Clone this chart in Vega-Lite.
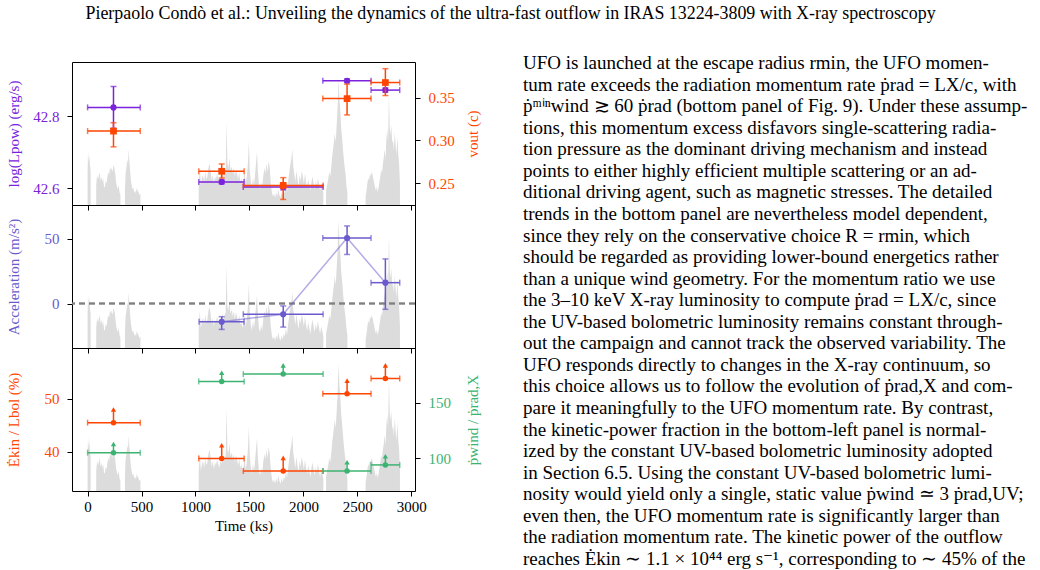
{
  "$schema": "https://vega.github.io/schema/vega-lite/v6.json",
  "background": "white",
  "padding": 5,
  "title": {"text": "Pierpaolo Condò   et al.: Unveiling the dynamics of the ultra-fast outflow in IRAS 13224-3809 with X-ray spectroscopy", "font": "Liberation Serif", "fontSize": 17.9, "fontWeight": "normal", "color": "black", "anchor": "start", "dx": 80, "offset": 31},
  "config": {
    "font": "Liberation Serif",
    "view": {"stroke": "black", "strokeWidth": 1}
  },
  "datasets": {
    "top": [
      {"t": 240, "tlo": 0, "thi": 488, "lp": 42.824, "lplo": 42.766, "lphi": 42.882, "v": 0.3108, "vlo": 0.2924, "vhi": 0.3206},
      {"t": 1243, "tlo": 1030, "thi": 1451, "lp": 42.617, "lplo": 42.612, "lphi": 42.622, "v": 0.2638, "vlo": 0.2559, "vhi": 0.2724},
      {"t": 1813, "tlo": 1443, "thi": 2183, "lp": 42.603, "lplo": 42.595, "lphi": 42.611, "v": 0.2473, "vlo": 0.2309, "vhi": 0.2564},
      {"t": 2405, "tlo": 2180, "thi": 2627, "lp": 42.898, "lplo": 42.893, "lphi": 42.903, "v": 0.3488, "vlo": 0.3297, "vhi": 0.3657},
      {"t": 2760, "tlo": 2627, "thi": 2893, "lp": 42.872, "lplo": 42.866, "lphi": 42.878, "v": 0.3676, "vlo": 0.3524, "vhi": 0.3838}
    ],
    "mid": [
      {"t": 1243, "tlo": 1033, "thi": 1450, "a": -14.0, "alo": -19.9, "ahi": -10.1},
      {"t": 1813, "tlo": 1443, "thi": 2183, "a": -8.2, "alo": -18.1, "ahi": -1.8},
      {"t": 2405, "tlo": 2180, "thi": 2627, "a": 50.5, "alo": 37.8, "ahi": 59.8},
      {"t": 2760, "tlo": 2627, "thi": 2893, "a": 16.1, "alo": -4.4, "ahi": 34.4}
    ],
    "bot": [
      {"t": 240, "tlo": 0, "thi": 488, "e": 45.5, "etop": 48.0, "p": 105.0, "ptop": 112.8},
      {"t": 1243, "tlo": 1030, "thi": 1451, "e": 38.7, "etop": 41.2, "p": 168.9, "ptop": 176.7},
      {"t": 1813, "tlo": 1443, "thi": 2183, "e": 36.3, "etop": 38.8, "p": 175.5, "ptop": 183.3},
      {"t": 2405, "tlo": 2180, "thi": 2627, "e": 51.0, "etop": 53.5, "p": 88.6, "ptop": 96.4},
      {"t": 2760, "tlo": 2627, "thi": 2893, "e": 53.9, "etop": 56.4, "p": 94.0, "ptop": 101.8}
    ],
    "lc": [
      {"seg": 1, "t": 0, "rate": 2.2}, {"seg": 1, "t": 4, "rate": 3.8}, {"seg": 1, "t": 10, "rate": 3.0}, {"seg": 1, "t": 16, "rate": 3.5}, {"seg": 1, "t": 22, "rate": 2.8}, {"seg": 1, "t": 28, "rate": 2.4},
      {"seg": 2, "t": 80, "rate": 1.4}, {"seg": 2, "t": 88, "rate": 2.1}, {"seg": 2, "t": 96, "rate": 1.8}, {"seg": 2, "t": 104, "rate": 2.0}, {"seg": 2, "t": 112, "rate": 2.3}, {"seg": 2, "t": 120, "rate": 1.7}, {"seg": 2, "t": 128, "rate": 2.0}, {"seg": 2, "t": 136, "rate": 1.6}, {"seg": 2, "t": 144, "rate": 1.9}, {"seg": 2, "t": 152, "rate": 1.3}, {"seg": 2, "t": 160, "rate": 1.2}, {"seg": 2, "t": 168, "rate": 1.7}, {"seg": 2, "t": 176, "rate": 1.5}, {"seg": 2, "t": 184, "rate": 2.0}, {"seg": 2, "t": 192, "rate": 2.3}, {"seg": 2, "t": 200, "rate": 2.1}, {"seg": 2, "t": 208, "rate": 2.7}, {"seg": 2, "t": 216, "rate": 2.4}, {"seg": 2, "t": 224, "rate": 2.6}, {"seg": 2, "t": 232, "rate": 2.3}, {"seg": 2, "t": 240, "rate": 2.8}, {"seg": 2, "t": 248, "rate": 2.6}, {"seg": 2, "t": 256, "rate": 2.2}, {"seg": 2, "t": 264, "rate": 1.6}, {"seg": 2, "t": 272, "rate": 1.3}, {"seg": 2, "t": 280, "rate": 1.1}, {"seg": 2, "t": 288, "rate": 1.4}, {"seg": 2, "t": 296, "rate": 0.9}, {"seg": 2, "t": 304, "rate": 0.7},
      {"seg": 3, "t": 346, "rate": 1.0}, {"seg": 3, "t": 352, "rate": 2.2}, {"seg": 3, "t": 360, "rate": 2.6}, {"seg": 3, "t": 368, "rate": 3.2}, {"seg": 3, "t": 375, "rate": 2.9}, {"seg": 3, "t": 381, "rate": 3.9}, {"seg": 3, "t": 387, "rate": 3.1}, {"seg": 3, "t": 393, "rate": 2.5}, {"seg": 3, "t": 400, "rate": 1.8}, {"seg": 3, "t": 408, "rate": 1.4}, {"seg": 3, "t": 416, "rate": 1.1}, {"seg": 3, "t": 424, "rate": 1.2}, {"seg": 3, "t": 432, "rate": 0.9}, {"seg": 3, "t": 440, "rate": 1.0}, {"seg": 3, "t": 448, "rate": 0.8}, {"seg": 3, "t": 456, "rate": 1.2}, {"seg": 3, "t": 464, "rate": 1.0}, {"seg": 3, "t": 472, "rate": 0.9}, {"seg": 3, "t": 480, "rate": 0.7}, {"seg": 3, "t": 490, "rate": 0.8},
      {"seg": 4, "t": 1030, "rate": 1.5}, {"seg": 4, "t": 1040, "rate": 2.6}, {"seg": 4, "t": 1050, "rate": 1.4}, {"seg": 4, "t": 1060, "rate": 1.9}, {"seg": 4, "t": 1070, "rate": 2.1}, {"seg": 4, "t": 1080, "rate": 1.6}, {"seg": 4, "t": 1090, "rate": 2.3}, {"seg": 4, "t": 1100, "rate": 1.8}, {"seg": 4, "t": 1110, "rate": 2.0}, {"seg": 4, "t": 1120, "rate": 2.6}, {"seg": 4, "t": 1130, "rate": 2.9}, {"seg": 4, "t": 1140, "rate": 2.4}, {"seg": 4, "t": 1150, "rate": 1.7}, {"seg": 4, "t": 1160, "rate": 2.1}, {"seg": 4, "t": 1170, "rate": 1.5}, {"seg": 4, "t": 1180, "rate": 2.0}, {"seg": 4, "t": 1190, "rate": 1.8}, {"seg": 4, "t": 1200, "rate": 2.2}, {"seg": 4, "t": 1210, "rate": 1.9}, {"seg": 4, "t": 1220, "rate": 1.6}, {"seg": 4, "t": 1230, "rate": 2.1}, {"seg": 4, "t": 1240, "rate": 1.9}, {"seg": 4, "t": 1250, "rate": 2.4}, {"seg": 4, "t": 1260, "rate": 2.0}, {"seg": 4, "t": 1270, "rate": 2.3}, {"seg": 4, "t": 1280, "rate": 2.5}, {"seg": 4, "t": 1288, "rate": 5.8}, {"seg": 4, "t": 1296, "rate": 2.9}, {"seg": 4, "t": 1305, "rate": 2.6}, {"seg": 4, "t": 1315, "rate": 3.3}, {"seg": 4, "t": 1325, "rate": 2.4}, {"seg": 4, "t": 1335, "rate": 2.7}, {"seg": 4, "t": 1345, "rate": 2.2}, {"seg": 4, "t": 1355, "rate": 2.6}, {"seg": 4, "t": 1365, "rate": 2.0}, {"seg": 4, "t": 1375, "rate": 2.5}, {"seg": 4, "t": 1385, "rate": 2.2}, {"seg": 4, "t": 1395, "rate": 1.8}, {"seg": 4, "t": 1405, "rate": 2.3}, {"seg": 4, "t": 1415, "rate": 1.6}, {"seg": 4, "t": 1425, "rate": 1.9}, {"seg": 4, "t": 1435, "rate": 1.4}, {"seg": 4, "t": 1445, "rate": 1.7}, {"seg": 4, "t": 1455, "rate": 2.4}, {"seg": 4, "t": 1465, "rate": 1.5}, {"seg": 4, "t": 1475, "rate": 2.0}, {"seg": 4, "t": 1485, "rate": 2.8}, {"seg": 4, "t": 1495, "rate": 4.5}, {"seg": 4, "t": 1503, "rate": 2.5}, {"seg": 4, "t": 1512, "rate": 1.7}, {"seg": 4, "t": 1522, "rate": 1.2}, {"seg": 4, "t": 1532, "rate": 1.9}, {"seg": 4, "t": 1542, "rate": 1.4}, {"seg": 4, "t": 1552, "rate": 2.1}, {"seg": 4, "t": 1562, "rate": 3.0}, {"seg": 4, "t": 1570, "rate": 3.7}, {"seg": 4, "t": 1578, "rate": 2.4}, {"seg": 4, "t": 1588, "rate": 1.4}, {"seg": 4, "t": 1598, "rate": 1.1}, {"seg": 4, "t": 1608, "rate": 1.6}, {"seg": 4, "t": 1618, "rate": 1.2}, {"seg": 4, "t": 1628, "rate": 2.0}, {"seg": 4, "t": 1638, "rate": 2.6}, {"seg": 4, "t": 1648, "rate": 2.2}, {"seg": 4, "t": 1658, "rate": 2.9}, {"seg": 4, "t": 1668, "rate": 2.3}, {"seg": 4, "t": 1678, "rate": 3.1}, {"seg": 4, "t": 1688, "rate": 2.6}, {"seg": 4, "t": 1698, "rate": 1.5}, {"seg": 4, "t": 1708, "rate": 0.9}, {"seg": 4, "t": 1718, "rate": 0.6}, {"seg": 4, "t": 1728, "rate": 0.8}, {"seg": 4, "t": 1738, "rate": 0.5}, {"seg": 4, "t": 1748, "rate": 0.9}, {"seg": 4, "t": 1758, "rate": 0.6}, {"seg": 4, "t": 1768, "rate": 1.1}, {"seg": 4, "t": 1778, "rate": 0.7}, {"seg": 4, "t": 1788, "rate": 0.5}, {"seg": 4, "t": 1798, "rate": 0.9}, {"seg": 4, "t": 1808, "rate": 0.6}, {"seg": 4, "t": 1818, "rate": 1.0}, {"seg": 4, "t": 1828, "rate": 0.8}, {"seg": 4, "t": 1838, "rate": 1.4}, {"seg": 4, "t": 1848, "rate": 0.9}, {"seg": 4, "t": 1858, "rate": 1.6}, {"seg": 4, "t": 1868, "rate": 2.2}, {"seg": 4, "t": 1878, "rate": 2.8}, {"seg": 4, "t": 1888, "rate": 3.2}, {"seg": 4, "t": 1898, "rate": 3.9}, {"seg": 4, "t": 1906, "rate": 2.7}, {"seg": 4, "t": 1915, "rate": 2.2}, {"seg": 4, "t": 1925, "rate": 1.6}, {"seg": 4, "t": 1935, "rate": 2.4}, {"seg": 4, "t": 1945, "rate": 1.8}, {"seg": 4, "t": 1955, "rate": 1.3}, {"seg": 4, "t": 1965, "rate": 2.1}, {"seg": 4, "t": 1975, "rate": 1.7}, {"seg": 4, "t": 1985, "rate": 2.4}, {"seg": 4, "t": 1995, "rate": 2.0}, {"seg": 4, "t": 2005, "rate": 1.5}, {"seg": 4, "t": 2015, "rate": 2.2}, {"seg": 4, "t": 2025, "rate": 1.6}, {"seg": 4, "t": 2035, "rate": 1.2}, {"seg": 4, "t": 2045, "rate": 1.8}, {"seg": 4, "t": 2055, "rate": 1.4}, {"seg": 4, "t": 2065, "rate": 1.0}, {"seg": 4, "t": 2075, "rate": 1.6}, {"seg": 4, "t": 2085, "rate": 2.0}, {"seg": 4, "t": 2095, "rate": 1.5}, {"seg": 4, "t": 2105, "rate": 1.1}, {"seg": 4, "t": 2115, "rate": 1.7}, {"seg": 4, "t": 2125, "rate": 1.3}, {"seg": 4, "t": 2135, "rate": 1.9}, {"seg": 4, "t": 2145, "rate": 1.4}, {"seg": 4, "t": 2155, "rate": 1.0}, {"seg": 4, "t": 2165, "rate": 1.5}, {"seg": 4, "t": 2175, "rate": 1.2}, {"seg": 4, "t": 2185, "rate": 0.8},
      {"seg": 5, "t": 2210, "rate": 1.0}, {"seg": 5, "t": 2220, "rate": 1.4}, {"seg": 5, "t": 2230, "rate": 1.8}, {"seg": 5, "t": 2240, "rate": 2.3}, {"seg": 5, "t": 2250, "rate": 2.0}, {"seg": 5, "t": 2260, "rate": 2.8}, {"seg": 5, "t": 2270, "rate": 3.6}, {"seg": 5, "t": 2280, "rate": 4.2}, {"seg": 5, "t": 2290, "rate": 5.0}, {"seg": 5, "t": 2300, "rate": 4.4}, {"seg": 5, "t": 2310, "rate": 5.8}, {"seg": 5, "t": 2318, "rate": 6.9}, {"seg": 5, "t": 2326, "rate": 8.9}, {"seg": 5, "t": 2334, "rate": 7.4}, {"seg": 5, "t": 2342, "rate": 6.6}, {"seg": 5, "t": 2350, "rate": 5.4}, {"seg": 5, "t": 2360, "rate": 4.6}, {"seg": 5, "t": 2370, "rate": 3.6}, {"seg": 5, "t": 2380, "rate": 2.8}, {"seg": 5, "t": 2390, "rate": 2.2}, {"seg": 5, "t": 2400, "rate": 1.3}, {"seg": 5, "t": 2408, "rate": 0.9},
      {"seg": 6, "t": 2577, "rate": 0.6}, {"seg": 6, "t": 2585, "rate": 1.0}, {"seg": 6, "t": 2593, "rate": 1.5}, {"seg": 6, "t": 2601, "rate": 1.9}, {"seg": 6, "t": 2609, "rate": 1.7}, {"seg": 6, "t": 2617, "rate": 2.2}, {"seg": 6, "t": 2625, "rate": 2.0}, {"seg": 6, "t": 2633, "rate": 2.3}, {"seg": 6, "t": 2641, "rate": 2.1}, {"seg": 6, "t": 2649, "rate": 1.8}, {"seg": 6, "t": 2657, "rate": 1.5}, {"seg": 6, "t": 2665, "rate": 1.2}, {"seg": 6, "t": 2673, "rate": 1.0}, {"seg": 6, "t": 2681, "rate": 1.3}, {"seg": 6, "t": 2689, "rate": 0.9}, {"seg": 6, "t": 2697, "rate": 1.2}, {"seg": 6, "t": 2705, "rate": 1.6}, {"seg": 6, "t": 2713, "rate": 2.0}, {"seg": 6, "t": 2721, "rate": 2.5}, {"seg": 6, "t": 2729, "rate": 2.2}, {"seg": 6, "t": 2737, "rate": 2.9}, {"seg": 6, "t": 2745, "rate": 3.3}, {"seg": 6, "t": 2753, "rate": 3.9}, {"seg": 6, "t": 2761, "rate": 3.2}, {"seg": 6, "t": 2769, "rate": 4.6}, {"seg": 6, "t": 2777, "rate": 5.3}, {"seg": 6, "t": 2785, "rate": 4.4}, {"seg": 6, "t": 2793, "rate": 7.8}, {"seg": 6, "t": 2800, "rate": 5.5}, {"seg": 6, "t": 2807, "rate": 4.9}, {"seg": 6, "t": 2815, "rate": 5.6}, {"seg": 6, "t": 2823, "rate": 4.3}, {"seg": 6, "t": 2831, "rate": 4.6}, {"seg": 6, "t": 2839, "rate": 3.8}, {"seg": 6, "t": 2847, "rate": 5.1}, {"seg": 6, "t": 2855, "rate": 4.2}, {"seg": 6, "t": 2863, "rate": 3.5}, {"seg": 6, "t": 2871, "rate": 4.8}, {"seg": 6, "t": 2879, "rate": 3.6}, {"seg": 6, "t": 2887, "rate": 2.9}, {"seg": 6, "t": 2895, "rate": 1.5}
    ],
    "txt": [
      {"col": 1, "line": 1, "s": "UFO is launched at the escape radius rmin, the UFO momen-"},
      {"col": 1, "line": 2, "s": "tum rate exceeds the radiation momentum rate ṗrad = LX/c, with"},
      {"col": 1, "line": 3, "s": "ṗᵐⁱⁿwind ≳ 60 ṗrad (bottom panel of Fig. 9). Under these assump-"},
      {"col": 1, "line": 4, "s": "tions, this momentum excess disfavors single-scattering radia-"},
      {"col": 1, "line": 5, "s": "tion pressure as the dominant driving mechanism and instead"},
      {"col": 1, "line": 6, "s": "points to either highly efficient multiple scattering or an ad-"},
      {"col": 1, "line": 7, "s": "ditional driving agent, such as magnetic stresses. The detailed"},
      {"col": 1, "line": 8, "s": "trends in the bottom panel are nevertheless model dependent,"},
      {"col": 1, "line": 9, "s": "since they rely on the conservative choice R = rmin, which"},
      {"col": 1, "line": 10, "s": "should be regarded as providing lower-bound energetics rather"},
      {"col": 1, "line": 11, "s": "than a unique wind geometry. For the momentum ratio we use"},
      {"col": 1, "line": 12, "s": "the 3–10 keV X-ray luminosity to compute ṗrad = LX/c, since"},
      {"col": 1, "line": 13, "s": "the UV-based bolometric luminosity remains constant through-"},
      {"col": 1, "line": 14, "s": "out the campaign and cannot track the observed variability. The"},
      {"col": 1, "line": 15, "s": "UFO responds directly to changes in the X-ray continuum, so"},
      {"col": 1, "line": 16, "s": "this choice allows us to follow the evolution of ṗrad,X and com-"},
      {"col": 1, "line": 17, "s": "pare it meaningfully to the UFO momentum rate. By contrast,"},
      {"col": 1, "line": 18, "s": "the kinetic-power fraction in the bottom-left panel is normal-"},
      {"col": 1, "line": 19, "s": "ized by the constant UV-based bolometric luminosity adopted"},
      {"col": 1, "line": 20, "s": "in Section 6.5. Using the constant UV-based bolometric lumi-"},
      {"col": 1, "line": 21, "s": "nosity would yield only a single, static value ṗwind ≃ 3 ṗrad,UV;"},
      {"col": 1, "line": 22, "s": "even then, the UFO momentum rate is significantly larger than"},
      {"col": 1, "line": 23, "s": "the radiation momentum rate. The kinetic power of the outflow"},
      {"col": 1, "line": 24, "s": "reaches Ėkin ∼ 1.1 × 10⁴⁴ erg s⁻¹, corresponding to ∼ 45% of the"}
    ]
  },
  "hconcat": [
    {
      "vconcat": [
        {
          "width": 343, "height": 143,
          "layer": [
            {"data": {"name": "lc"}, "mark": {"type": "area", "color": "#dcdcdc"},
             "encoding": {
               "x": {"field": "t", "type": "quantitative", "scale": {"domain": [-144.5, 3034.5], "nice": false, "zero": false}, "axis": {"values": [0, 500, 1000, 1500, 2000, 2500, 3000], "labels": false, "title": null, "orient": "bottom", "grid": false, "domain": false, "tickColor": "black", "tickSize": 5}},
               "y": {"field": "rate", "type": "quantitative", "stack": null, "scale": {"domain": [0, 10], "nice": false}, "axis": null},
               "detail": {"field": "seg"}}},
            {"data": {"name": "top"}, "mark": {"type": "errorbar", "ticks": {"size": 6, "thickness": 1.5}, "thickness": 1.5},
             "encoding": {
               "x": {"field": "tlo", "type": "quantitative", "axis": {"values": [0, 500, 1000, 1500, 2000, 2500, 3000], "labels": false, "title": null, "orient": "bottom", "grid": false, "domain": false, "tickColor": "black", "tickSize": 5}},
               "x2": {"field": "thi"},
               "y": {"field": "lp", "type": "quantitative", "scale": {"domain": [42.553, 42.95], "nice": false, "zero": false}, "axis": null},
               "color": {"value": "#7a22dc"}}},
            {"data": {"name": "top"}, "mark": {"type": "errorbar", "ticks": {"size": 6, "thickness": 1.5}, "thickness": 1.5},
             "encoding": {
               "x": {"field": "t", "type": "quantitative", "axis": {"values": [0, 500, 1000, 1500, 2000, 2500, 3000], "labels": false, "title": null, "orient": "bottom", "grid": false, "domain": false, "tickColor": "black", "tickSize": 5}},
               "y": {"field": "lplo", "type": "quantitative", "scale": {"domain": [42.553, 42.95], "nice": false, "zero": false}, "axis": null},
               "y2": {"field": "lphi"},
               "color": {"value": "#7a22dc"}}},
            {"data": {"name": "top"}, "mark": {"type": "point", "filled": true, "shape": "circle", "size": 38, "opacity": 1, "color": "#7a22dc"},
             "encoding": {
               "x": {"field": "t", "type": "quantitative", "axis": {"values": [0, 500, 1000, 1500, 2000, 2500, 3000], "labels": false, "title": null, "orient": "bottom", "grid": false, "domain": false, "tickColor": "black", "tickSize": 5}},
               "y": {"field": "lp", "type": "quantitative", "scale": {"domain": [42.553, 42.95], "nice": false, "zero": false},
                     "axis": {"orient": "left", "values": [42.6, 42.8], "format": ".1f", "title": "log(Lpow) (erg/s)", "grid": false, "domain": false, "tickColor": "black", "tickSize": 5, "labelFontSize": 15, "titleFontSize": 15, "labelFont": "Liberation Serif", "titleFont": "Liberation Serif", "titleFontWeight": "normal", "labelPadding": 8, "titleColor": "#7a22dc", "labelColor": "#7a22dc", "titleX": -51, "titleY": 71.5, "titleAngle": 270, "titleAlign": "center", "titleBaseline": "bottom"}}}},
            {"data": {"name": "top"}, "mark": {"type": "errorbar", "ticks": {"size": 6, "thickness": 1.5}, "thickness": 1.5},
             "encoding": {
               "x": {"field": "tlo", "type": "quantitative", "axis": {"values": [0, 500, 1000, 1500, 2000, 2500, 3000], "labels": false, "title": null, "orient": "bottom", "grid": false, "domain": false, "tickColor": "black", "tickSize": 5}},
               "x2": {"field": "thi"},
               "y": {"field": "v", "type": "quantitative", "scale": {"domain": [0.2244, 0.3916], "nice": false, "zero": false}, "axis": null},
               "color": {"value": "#ff4500"}}},
            {"data": {"name": "top"}, "mark": {"type": "errorbar", "ticks": {"size": 6, "thickness": 1.5}, "thickness": 1.5},
             "encoding": {
               "x": {"field": "t", "type": "quantitative", "axis": {"values": [0, 500, 1000, 1500, 2000, 2500, 3000], "labels": false, "title": null, "orient": "bottom", "grid": false, "domain": false, "tickColor": "black", "tickSize": 5}},
               "y": {"field": "vlo", "type": "quantitative", "scale": {"domain": [0.2244, 0.3916], "nice": false, "zero": false}, "axis": null},
               "y2": {"field": "vhi"},
               "color": {"value": "#ff4500"}}},
            {"data": {"name": "top"}, "mark": {"type": "point", "filled": true, "shape": "square", "size": 45, "opacity": 1, "color": "#ff4500"},
             "encoding": {
               "x": {"field": "t", "type": "quantitative", "axis": {"values": [0, 500, 1000, 1500, 2000, 2500, 3000], "labels": false, "title": null, "orient": "bottom", "grid": false, "domain": false, "tickColor": "black", "tickSize": 5}},
               "y": {"field": "v", "type": "quantitative", "scale": {"domain": [0.2244, 0.3916], "nice": false, "zero": false},
                     "axis": {"orient": "right", "values": [0.25, 0.3, 0.35], "format": ".2f", "title": "vout (c)", "grid": false, "domain": false, "tickColor": "black", "tickSize": 5, "labelFontSize": 15, "titleFontSize": 15, "labelFont": "Liberation Serif", "titleFont": "Liberation Serif", "titleFontWeight": "normal", "labelPadding": 8, "titleColor": "#ff4500", "labelColor": "#ff4500", "titleX": 65, "titleY": 71.5, "titleAngle": 270, "titleAlign": "center", "titleBaseline": "bottom"}}}}
          ],
          "resolve": {"scale": {"y": "independent"}}
        },
        {
          "width": 343, "height": 143,
          "layer": [
            {"data": {"name": "lc"}, "mark": {"type": "area", "color": "#dcdcdc"},
             "encoding": {
               "x": {"field": "t", "type": "quantitative", "scale": {"domain": [-144.5, 3034.5], "nice": false, "zero": false}, "axis": {"values": [0, 500, 1000, 1500, 2000, 2500, 3000], "labels": false, "title": null, "orient": "bottom", "grid": false, "domain": false, "tickColor": "black", "tickSize": 5}},
               "y": {"field": "rate", "type": "quantitative", "stack": null, "scale": {"domain": [0, 10], "nice": false}, "axis": null},
               "detail": {"field": "seg"}}},
            {"data": {"name": "mid"}, "mark": {"type": "rule", "strokeDash": [6, 4], "color": "#808080", "strokeWidth": 1.5},
             "encoding": {"y": {"datum": 0, "type": "quantitative", "scale": {"domain": [-34.2, 75.9], "nice": false, "zero": false}, "axis": null}}},
            {"data": {"name": "mid"}, "mark": {"type": "line", "color": "#6a5acd", "opacity": 0.5, "strokeWidth": 1.5},
             "encoding": {
               "x": {"field": "t", "type": "quantitative", "axis": {"values": [0, 500, 1000, 1500, 2000, 2500, 3000], "labels": false, "title": null, "orient": "bottom", "grid": false, "domain": false, "tickColor": "black", "tickSize": 5}},
               "y": {"field": "a", "type": "quantitative", "scale": {"domain": [-34.2, 75.9], "nice": false, "zero": false}, "axis": null}}},
            {"data": {"name": "mid"}, "mark": {"type": "errorbar", "ticks": {"size": 6, "thickness": 1.5}, "thickness": 1.5},
             "encoding": {
               "x": {"field": "tlo", "type": "quantitative", "axis": {"values": [0, 500, 1000, 1500, 2000, 2500, 3000], "labels": false, "title": null, "orient": "bottom", "grid": false, "domain": false, "tickColor": "black", "tickSize": 5}},
               "x2": {"field": "thi"},
               "y": {"field": "a", "type": "quantitative", "scale": {"domain": [-34.2, 75.9], "nice": false, "zero": false}, "axis": null},
               "color": {"value": "#6a5acd"}}},
            {"data": {"name": "mid"}, "mark": {"type": "errorbar", "ticks": {"size": 6, "thickness": 1.5}, "thickness": 1.5},
             "encoding": {
               "x": {"field": "t", "type": "quantitative", "axis": {"values": [0, 500, 1000, 1500, 2000, 2500, 3000], "labels": false, "title": null, "orient": "bottom", "grid": false, "domain": false, "tickColor": "black", "tickSize": 5}},
               "y": {"field": "alo", "type": "quantitative", "scale": {"domain": [-34.2, 75.9], "nice": false, "zero": false}, "axis": null},
               "y2": {"field": "ahi"},
               "color": {"value": "#6a5acd"}}},
            {"data": {"name": "mid"}, "mark": {"type": "point", "filled": true, "shape": "circle", "size": 38, "opacity": 1, "color": "#6a5acd"},
             "encoding": {
               "x": {"field": "t", "type": "quantitative", "axis": {"values": [0, 500, 1000, 1500, 2000, 2500, 3000], "labels": false, "title": null, "orient": "bottom", "grid": false, "domain": false, "tickColor": "black", "tickSize": 5}},
               "y": {"field": "a", "type": "quantitative", "scale": {"domain": [-34.2, 75.9], "nice": false, "zero": false},
                     "axis": {"orient": "left", "values": [0, 50], "title": "Acceleration (m/s²)", "grid": false, "domain": false, "tickColor": "black", "tickSize": 5, "labelFontSize": 15, "titleFontSize": 15, "labelFont": "Liberation Serif", "titleFont": "Liberation Serif", "titleFontWeight": "normal", "labelPadding": 8, "titleColor": "#6a5acd", "labelColor": "#6a5acd", "titleX": -51, "titleY": 71.5, "titleAngle": 270, "titleAlign": "center", "titleBaseline": "bottom"}}}}
          ],
          "resolve": {"scale": {"y": "independent"}}
        },
        {
          "width": 343, "height": 143,
          "layer": [
            {"data": {"name": "lc"}, "mark": {"type": "area", "color": "#dcdcdc"},
             "encoding": {
               "x": {"field": "t", "type": "quantitative", "scale": {"domain": [-144.5, 3034.5], "nice": false, "zero": false}, "axis": {"values": [0, 500, 1000, 1500, 2000, 2500, 3000], "format": "d", "title": "Time (ks)", "orient": "bottom", "grid": false, "domain": false, "tickColor": "black", "tickSize": 5, "labelFontSize": 15, "titleFontSize": 15, "labelFont": "Liberation Serif", "titleFont": "Liberation Serif", "titleFontWeight": "normal", "labelPadding": 3, "labelColor": "black", "titleColor": "black", "titlePadding": 4}},
               "y": {"field": "rate", "type": "quantitative", "stack": null, "scale": {"domain": [0, 10], "nice": false}, "axis": null},
               "detail": {"field": "seg"}}},
            {"data": {"name": "bot"}, "mark": {"type": "errorbar", "ticks": {"size": 6, "thickness": 1.5}, "thickness": 1.5},
             "encoding": {
               "x": {"field": "tlo", "type": "quantitative", "axis": {"values": [0, 500, 1000, 1500, 2000, 2500, 3000], "format": "d", "title": "Time (ks)", "orient": "bottom", "grid": false, "domain": false, "tickColor": "black", "tickSize": 5, "labelFontSize": 15, "titleFontSize": 15, "labelFont": "Liberation Serif", "titleFont": "Liberation Serif", "titleFontWeight": "normal", "labelPadding": 3, "labelColor": "black", "titleColor": "black", "titlePadding": 4}},
               "x2": {"field": "thi"},
               "y": {"field": "e", "type": "quantitative", "scale": {"domain": [32.5, 59.7], "nice": false, "zero": false}, "axis": null},
               "color": {"value": "#ff4500"}}},
            {"data": {"name": "bot"}, "mark": {"type": "rule", "color": "#ff4500", "strokeWidth": 1.5},
             "encoding": {
               "x": {"field": "t", "type": "quantitative", "axis": {"values": [0, 500, 1000, 1500, 2000, 2500, 3000], "format": "d", "title": "Time (ks)", "orient": "bottom", "grid": false, "domain": false, "tickColor": "black", "tickSize": 5, "labelFontSize": 15, "titleFontSize": 15, "labelFont": "Liberation Serif", "titleFont": "Liberation Serif", "titleFontWeight": "normal", "labelPadding": 3, "labelColor": "black", "titleColor": "black", "titlePadding": 4}},
               "y": {"field": "e", "type": "quantitative", "scale": {"domain": [32.5, 59.7], "nice": false, "zero": false}, "axis": null},
               "y2": {"field": "etop"}}},
            {"data": {"name": "bot"}, "mark": {"type": "point", "filled": true, "shape": "triangle-up", "size": 28, "opacity": 1, "color": "#ff4500"},
             "encoding": {
               "x": {"field": "t", "type": "quantitative", "axis": {"values": [0, 500, 1000, 1500, 2000, 2500, 3000], "format": "d", "title": "Time (ks)", "orient": "bottom", "grid": false, "domain": false, "tickColor": "black", "tickSize": 5, "labelFontSize": 15, "titleFontSize": 15, "labelFont": "Liberation Serif", "titleFont": "Liberation Serif", "titleFontWeight": "normal", "labelPadding": 3, "labelColor": "black", "titleColor": "black", "titlePadding": 4}},
               "y": {"field": "etop", "type": "quantitative", "scale": {"domain": [32.5, 59.7], "nice": false, "zero": false}, "axis": null}}},
            {"data": {"name": "bot"}, "mark": {"type": "point", "filled": true, "shape": "circle", "size": 30, "opacity": 1, "color": "#ff4500"},
             "encoding": {
               "x": {"field": "t", "type": "quantitative", "axis": {"values": [0, 500, 1000, 1500, 2000, 2500, 3000], "format": "d", "title": "Time (ks)", "orient": "bottom", "grid": false, "domain": false, "tickColor": "black", "tickSize": 5, "labelFontSize": 15, "titleFontSize": 15, "labelFont": "Liberation Serif", "titleFont": "Liberation Serif", "titleFontWeight": "normal", "labelPadding": 3, "labelColor": "black", "titleColor": "black", "titlePadding": 4}},
               "y": {"field": "e", "type": "quantitative", "scale": {"domain": [32.5, 59.7], "nice": false, "zero": false},
                     "axis": {"orient": "left", "values": [40, 50], "title": "Ėkin / Lbol (%)", "grid": false, "domain": false, "tickColor": "black", "tickSize": 5, "labelFontSize": 15, "titleFontSize": 15, "labelFont": "Liberation Serif", "titleFont": "Liberation Serif", "titleFontWeight": "normal", "labelPadding": 8, "titleColor": "#ff4500", "labelColor": "#ff4500", "titleX": -51, "titleY": 71.5, "titleAngle": 270, "titleAlign": "center", "titleBaseline": "bottom"}}}},
            {"data": {"name": "bot"}, "mark": {"type": "errorbar", "ticks": {"size": 6, "thickness": 1.5}, "thickness": 1.5},
             "encoding": {
               "x": {"field": "tlo", "type": "quantitative", "axis": {"values": [0, 500, 1000, 1500, 2000, 2500, 3000], "format": "d", "title": "Time (ks)", "orient": "bottom", "grid": false, "domain": false, "tickColor": "black", "tickSize": 5, "labelFontSize": 15, "titleFontSize": 15, "labelFont": "Liberation Serif", "titleFont": "Liberation Serif", "titleFontWeight": "normal", "labelPadding": 3, "labelColor": "black", "titleColor": "black", "titlePadding": 4}},
               "x2": {"field": "thi"},
               "y": {"field": "p", "type": "quantitative", "scale": {"domain": [70.6, 198.9], "nice": false, "zero": false}, "axis": null},
               "color": {"value": "#3cb371"}}},
            {"data": {"name": "bot"}, "mark": {"type": "rule", "color": "#3cb371", "strokeWidth": 1.5},
             "encoding": {
               "x": {"field": "t", "type": "quantitative", "axis": {"values": [0, 500, 1000, 1500, 2000, 2500, 3000], "format": "d", "title": "Time (ks)", "orient": "bottom", "grid": false, "domain": false, "tickColor": "black", "tickSize": 5, "labelFontSize": 15, "titleFontSize": 15, "labelFont": "Liberation Serif", "titleFont": "Liberation Serif", "titleFontWeight": "normal", "labelPadding": 3, "labelColor": "black", "titleColor": "black", "titlePadding": 4}},
               "y": {"field": "p", "type": "quantitative", "scale": {"domain": [70.6, 198.9], "nice": false, "zero": false}, "axis": null},
               "y2": {"field": "ptop"}}},
            {"data": {"name": "bot"}, "mark": {"type": "point", "filled": true, "shape": "triangle-up", "size": 28, "opacity": 1, "color": "#3cb371"},
             "encoding": {
               "x": {"field": "t", "type": "quantitative", "axis": {"values": [0, 500, 1000, 1500, 2000, 2500, 3000], "format": "d", "title": "Time (ks)", "orient": "bottom", "grid": false, "domain": false, "tickColor": "black", "tickSize": 5, "labelFontSize": 15, "titleFontSize": 15, "labelFont": "Liberation Serif", "titleFont": "Liberation Serif", "titleFontWeight": "normal", "labelPadding": 3, "labelColor": "black", "titleColor": "black", "titlePadding": 4}},
               "y": {"field": "ptop", "type": "quantitative", "scale": {"domain": [70.6, 198.9], "nice": false, "zero": false}, "axis": null}}},
            {"data": {"name": "bot"}, "mark": {"type": "point", "filled": true, "shape": "circle", "size": 30, "opacity": 1, "color": "#3cb371"},
             "encoding": {
               "x": {"field": "t", "type": "quantitative", "axis": {"values": [0, 500, 1000, 1500, 2000, 2500, 3000], "format": "d", "title": "Time (ks)", "orient": "bottom", "grid": false, "domain": false, "tickColor": "black", "tickSize": 5, "labelFontSize": 15, "titleFontSize": 15, "labelFont": "Liberation Serif", "titleFont": "Liberation Serif", "titleFontWeight": "normal", "labelPadding": 3, "labelColor": "black", "titleColor": "black", "titlePadding": 4}},
               "y": {"field": "p", "type": "quantitative", "scale": {"domain": [70.6, 198.9], "nice": false, "zero": false},
                     "axis": {"orient": "right", "values": [100, 150], "title": "ṗwind / ṗrad,X", "grid": false, "domain": false, "tickColor": "black", "tickSize": 5, "labelFontSize": 15, "titleFontSize": 15, "labelFont": "Liberation Serif", "titleFont": "Liberation Serif", "titleFontWeight": "normal", "labelPadding": 8, "titleColor": "#3cb371", "labelColor": "#3cb371", "titleX": 65, "titleY": 71.5, "titleAngle": 270, "titleAlign": "center", "titleBaseline": "bottom"}}}}
          ],
          "resolve": {"scale": {"y": "independent"}}
        }
      ],
      "spacing": 0,
      "bounds": "flush"
    },
    {
      "data": {"name": "txt"},
      "width": 510, "height": 497,
      "view": {"stroke": null},
      "mark": {"type": "text", "align": "left", "baseline": "middle", "font": "Liberation Serif", "fontSize": 19, "color": "black"},
      "encoding": {
        "x": {"field": "col", "type": "quantitative", "scale": {"domain": [1, 2]}, "axis": null},
        "y": {"field": "line", "type": "quantitative", "scale": {"domain": [0.9536, 24], "nice": false, "zero": false, "reverse": true}, "axis": null},
        "text": {"field": "s"}
      }
    }
  ],
  "spacing": 42
}
